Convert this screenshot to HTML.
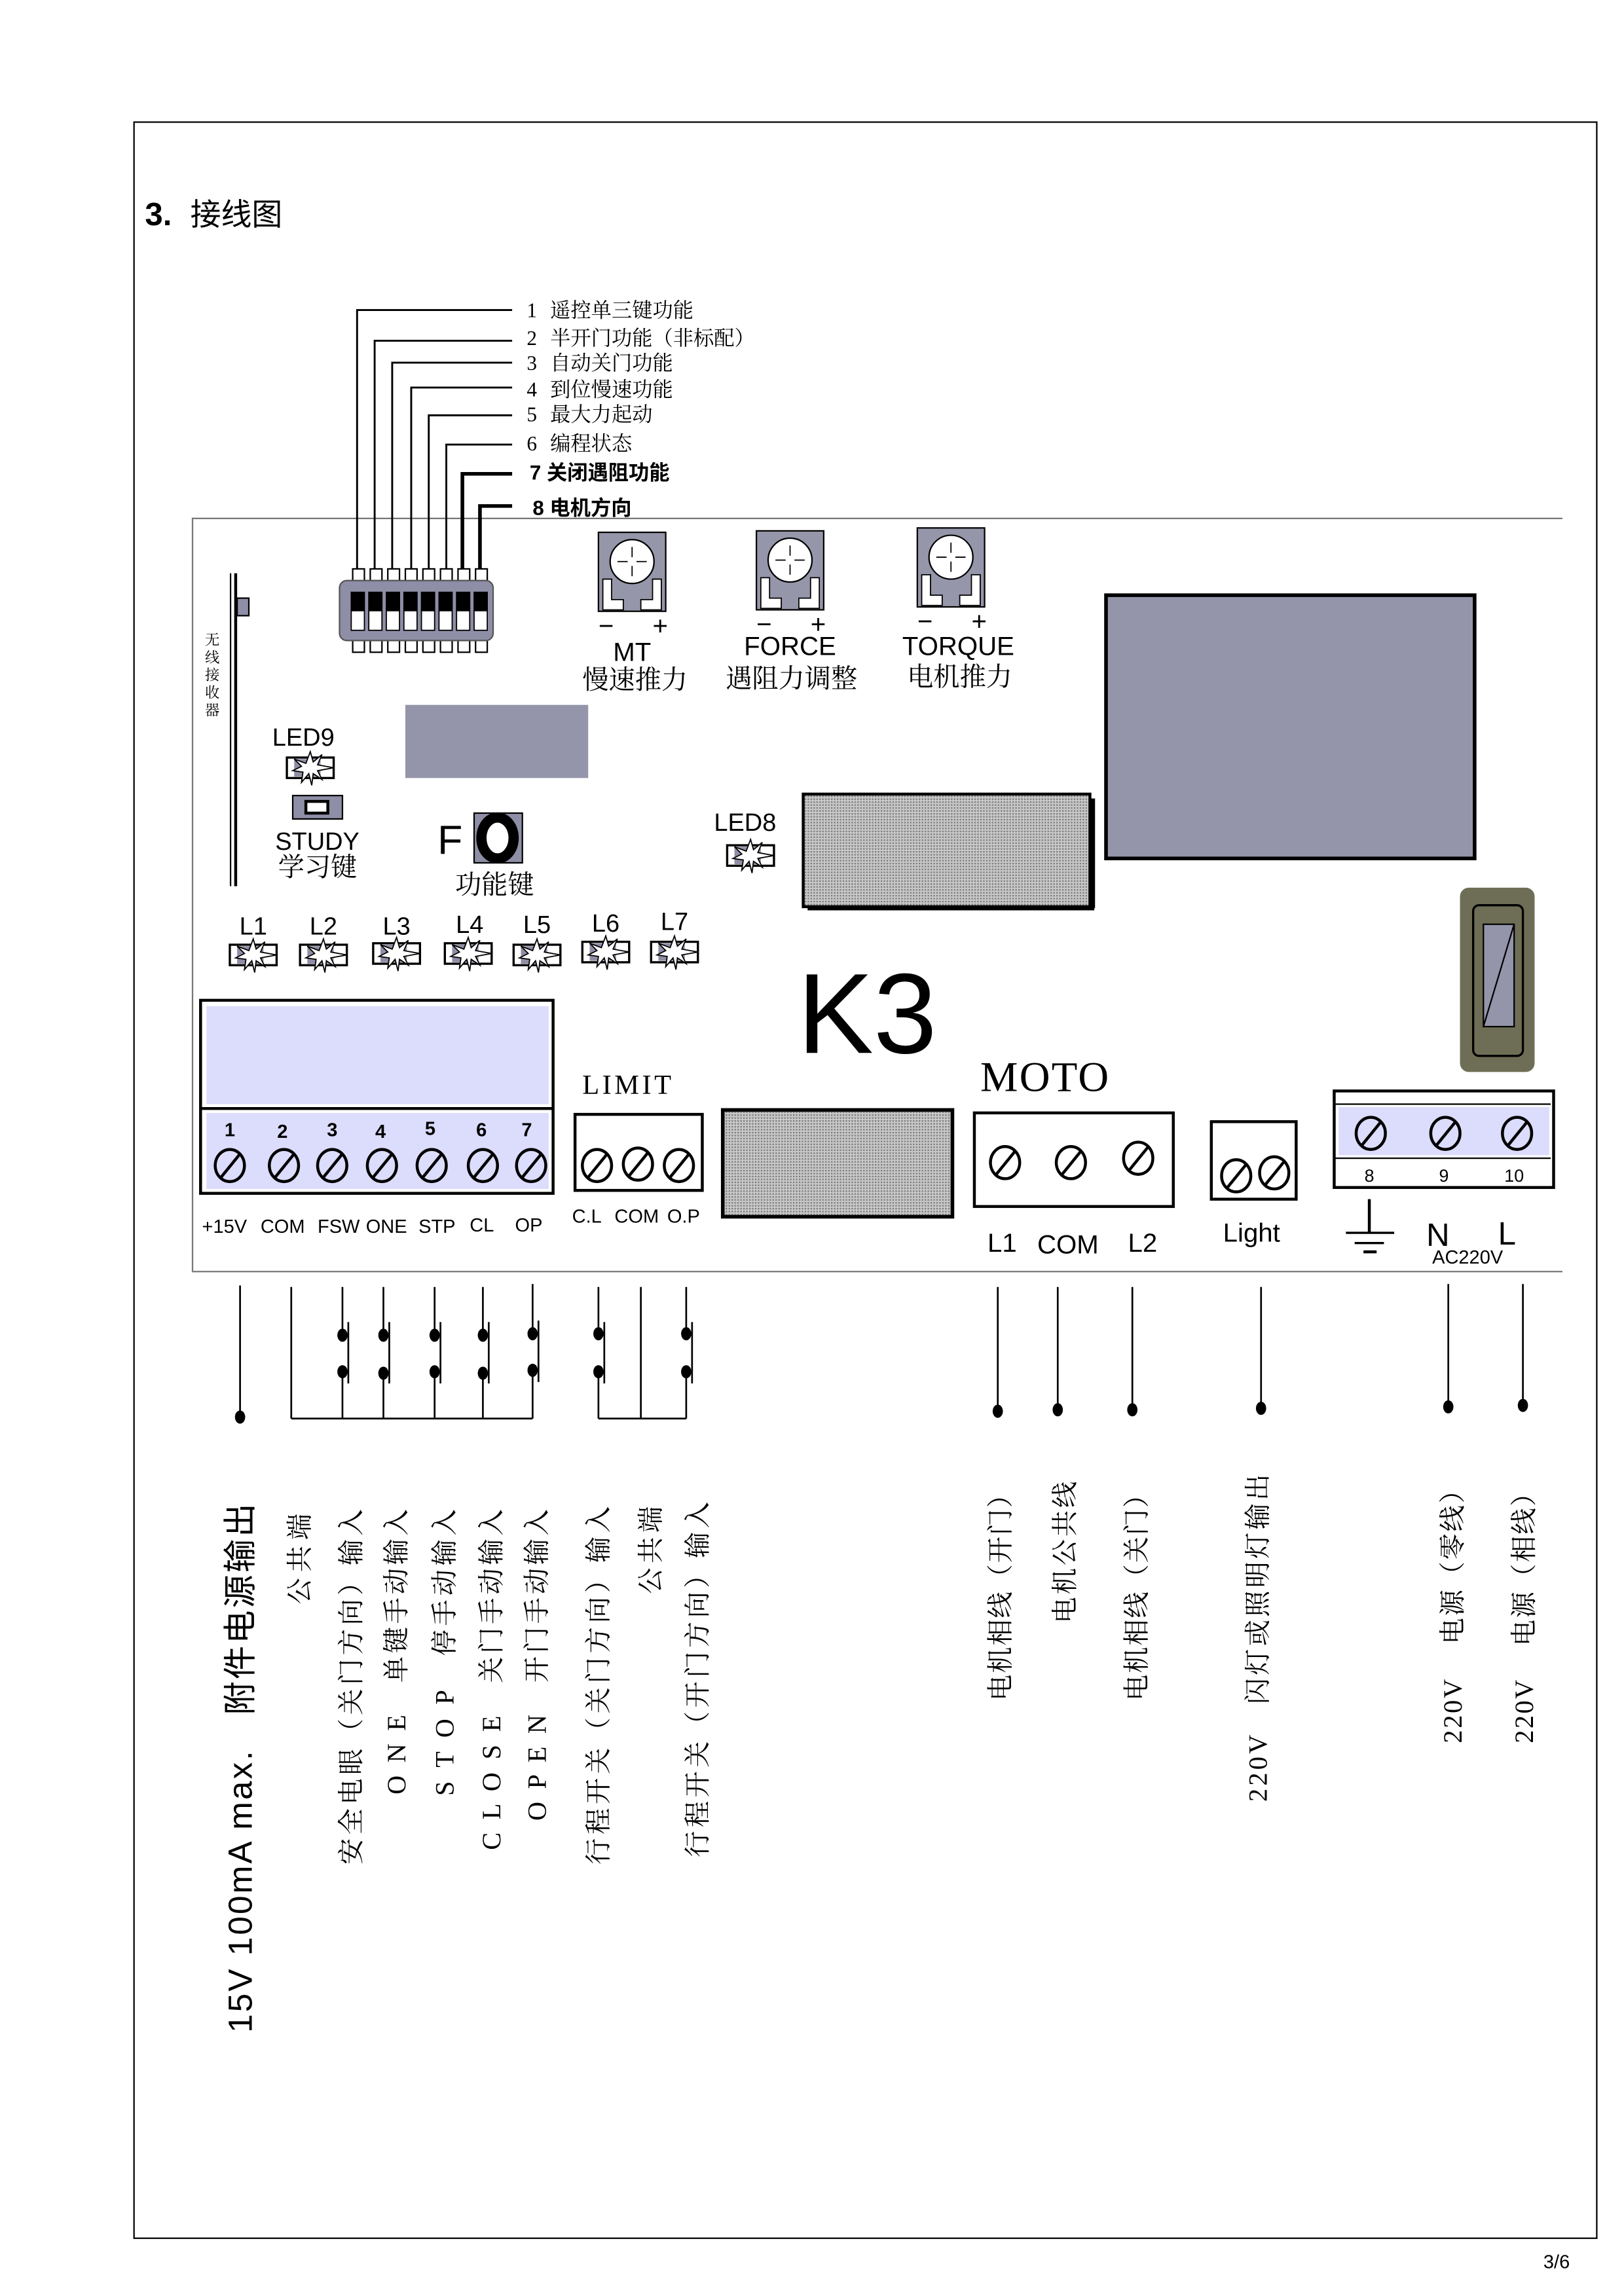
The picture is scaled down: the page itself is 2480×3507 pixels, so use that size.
<!DOCTYPE html>
<html><head><meta charset="utf-8"><style>
html,body{margin:0;padding:0;background:#fff;}
svg{display:block;}
text{white-space:pre;}
.s{font-family:"Liberation Sans","Noto Sans CJK SC",sans-serif;}
.r{font-family:"Liberation Serif","Noto Serif CJK SC",serif;}
</style></head><body>
<svg width="2480" height="3507" viewBox="0 0 1110 1570" xmlns="http://www.w3.org/2000/svg">
<defs>
<g id="led">
<rect x="0" y="0" width="32" height="14" fill="#fff" stroke="#000" stroke-width="1.5"/>
<rect x="5" y="1" width="18" height="12" fill="#8e8ea6"/>
<polygon points="16,-4 18,3 24,-2 21,5 32,7 21,9 24,15 18,11 17,19 15,11 10,17 11,10 4,9 10,6 5,1 13,4" fill="#fff" stroke="#000" stroke-width="0.8"/>
</g>
<g id="scr">
<ellipse cx="0" cy="0" rx="10" ry="11" fill="none" stroke="#000" stroke-width="2"/>
<line x1="-6" y1="8" x2="7" y2="-8" stroke="#000" stroke-width="2"/>
</g>
<g id="pot">
<rect x="0" y="0" width="46" height="54" fill="#9696aa" stroke="#000" stroke-width="1"/>
<circle cx="23" cy="20" r="15" fill="#fff" stroke="#000" stroke-width="1"/>
<line x1="23" y1="10" x2="23" y2="17" stroke="#000" stroke-width=".8"/><line x1="23" y1="23" x2="23" y2="30" stroke="#000" stroke-width=".8"/>
<line x1="13" y1="20" x2="20" y2="20" stroke="#000" stroke-width=".8"/><line x1="26" y1="20" x2="33" y2="20" stroke="#000" stroke-width=".8"/>
<path d="M3,32 h6 v14 h8 v7 h-14z" fill="#fff" stroke="#000" stroke-width=".8"/>
<path d="M43,32 h-6 v14 h-8 v7 h14z" fill="#fff" stroke="#000" stroke-width=".8"/>
</g>
<pattern id="dots" width="2" height="2" patternUnits="userSpaceOnUse"><rect width="2" height="2" fill="#c8c8c8"/><rect width="1" height="1" fill="#777"/></pattern>
</defs>

<rect x="91.5" y="83.5" width="1000" height="1447" fill="none" stroke="#000" stroke-width="1"/>
<text x="99" y="154" class="s" font-size="22" font-weight="bold">3.</text>
<text x="130" y="154" class="s" font-size="21">接线图</text>
<text x="1055" y="1551" class="s" font-size="13">3/6</text>

<line x1="131" y1="354.5" x2="1068" y2="354.5" stroke="#777" stroke-width="1"/>
<line x1="131" y1="869.5" x2="1068" y2="869.5" stroke="#777" stroke-width="1"/>
<line x1="131.5" y1="354" x2="131.5" y2="869" stroke="#777" stroke-width="1"/>

<g fill="none" stroke="#000" stroke-width="1.3">
<polyline points="244,390 244,212 350,212"/>
<polyline points="256,390 256,233 350,233"/>
<polyline points="268,390 268,248 350,248"/>
<polyline points="281,390 281,265 350,265"/>
<polyline points="293,390 293,284 350,284"/>
<polyline points="305,390 305,304 350,304"/>
</g>
<g fill="none" stroke="#000" stroke-width="2.5">
<polyline points="316,390 316,324 350,324"/>
<polyline points="328,390 328,346 350,346"/>
</g>
<g class="r" font-size="14">
<text x="360" y="217">1</text><text x="376" y="217">遥控单三键功能</text>
<text x="360" y="236">2</text><text x="376" y="236">半开门功能（非标配）</text>
<text x="360" y="253">3</text><text x="376" y="253">自动关门功能</text>
<text x="360" y="271">4</text><text x="376" y="271">到位慢速功能</text>
<text x="360" y="288">5</text><text x="376" y="288">最大力起动</text>
<text x="360" y="308">6</text><text x="376" y="308">编程状态</text>
</g>
<g class="s" font-size="14" font-weight="bold">
<text x="362" y="328">7 关闭遇阻功能</text>
<text x="364" y="352">8 电机方向</text>
</g>

<g fill="#fff" stroke="#000" stroke-width="1">
<rect x="241" y="389" width="8" height="9"/><rect x="253" y="389" width="8" height="9"/><rect x="265" y="389" width="8" height="9"/><rect x="277" y="389" width="8" height="9"/><rect x="289" y="389" width="8" height="9"/><rect x="301" y="389" width="8" height="9"/><rect x="313" y="389" width="8" height="9"/><rect x="325" y="389" width="8" height="9"/>
<rect x="241" y="437" width="8" height="9"/><rect x="253" y="437" width="8" height="9"/><rect x="265" y="437" width="8" height="9"/><rect x="277" y="437" width="8" height="9"/><rect x="289" y="437" width="8" height="9"/><rect x="301" y="437" width="8" height="9"/><rect x="313" y="437" width="8" height="9"/><rect x="325" y="437" width="8" height="9"/>
</g>
<rect x="232" y="397" width="105" height="41" rx="5" fill="#8e8ea6" stroke="#555" stroke-width="1"/>
<g>
<rect x="240" y="405" width="9" height="26" fill="#fff" stroke="#000" stroke-width=".8"/><rect x="240" y="405" width="9" height="13" fill="#000"/>
<rect x="252" y="405" width="9" height="26" fill="#fff" stroke="#000" stroke-width=".8"/><rect x="252" y="405" width="9" height="13" fill="#000"/>
<rect x="264" y="405" width="9" height="26" fill="#fff" stroke="#000" stroke-width=".8"/><rect x="264" y="405" width="9" height="13" fill="#000"/>
<rect x="276" y="405" width="9" height="26" fill="#fff" stroke="#000" stroke-width=".8"/><rect x="276" y="405" width="9" height="13" fill="#000"/>
<rect x="288" y="405" width="9" height="26" fill="#fff" stroke="#000" stroke-width=".8"/><rect x="288" y="405" width="9" height="13" fill="#000"/>
<rect x="300" y="405" width="9" height="26" fill="#fff" stroke="#000" stroke-width=".8"/><rect x="300" y="405" width="9" height="13" fill="#000"/>
<rect x="312" y="405" width="9" height="26" fill="#fff" stroke="#000" stroke-width=".8"/><rect x="312" y="405" width="9" height="13" fill="#000"/>
<rect x="324" y="405" width="9" height="26" fill="#fff" stroke="#000" stroke-width=".8"/><rect x="324" y="405" width="9" height="13" fill="#000"/>
</g>

<line x1="157.5" y1="392" x2="157.5" y2="606" stroke="#000" stroke-width="1"/>
<line x1="161" y1="392" x2="161" y2="606" stroke="#000" stroke-width="2"/>
<rect x="162" y="409" width="8" height="12" fill="#8e8ea6" stroke="#000" stroke-width="1"/>
<g class="r" font-size="10" text-anchor="middle">
<text x="145" y="441">无</text><text x="145" y="453">线</text><text x="145" y="465">接</text><text x="145" y="477">收</text><text x="145" y="489">器</text>
</g>

<use href="#pot" x="409" y="364"/>
<use href="#pot" x="517" y="363"/>
<use href="#pot" x="627" y="361"/>
<g class="s" font-size="18">
<text x="409" y="434">−</text><text x="446" y="434">+</text>
<text x="517" y="433">−</text><text x="554" y="433">+</text>
<text x="627" y="431">−</text><text x="664" y="431">+</text>
<text x="432" y="452" text-anchor="middle">MT</text>
<text x="540" y="448" text-anchor="middle">FORCE</text>
<text x="655" y="448" text-anchor="middle">TORQUE</text>
</g>
<g class="r" font-size="18" text-anchor="middle">
<text x="434" y="471">慢速推力</text>
<text x="541" y="470">遇阻力调整</text>
<text x="656" y="469">电机推力</text>
</g>

<rect x="277" y="482" width="125" height="50" fill="#9495aa"/>
<rect x="756" y="407" width="252" height="180" fill="#9495aa" stroke="#000" stroke-width="2.5"/>
<rect x="549" y="543" width="196" height="77" fill="url(#dots)" stroke="#000" stroke-width="2"/>
<line x1="552" y1="621" x2="748" y2="621" stroke="#000" stroke-width="3"/><line x1="747" y1="546" x2="747" y2="621" stroke="#000" stroke-width="3"/>
<rect x="494" y="759" width="157" height="73" fill="url(#dots)" stroke="#000" stroke-width="2.5"/>

<text x="186" y="510" class="s" font-size="17">LED9</text>
<use href="#led" x="196" y="518"/>
<rect x="200" y="544" width="34" height="16" fill="#8e8ea6" stroke="#000" stroke-width="1"/>
<rect x="209" y="548" width="15" height="8" fill="#fff" stroke="#000" stroke-width="2"/>
<text x="188" y="581" class="s" font-size="17">STUDY</text>
<text x="190" y="599" class="r" font-size="18">学习键</text>
<text x="299" y="584" class="s" font-size="28">F</text>
<rect x="324" y="556" width="33" height="34" fill="#8e8ea6" stroke="#000" stroke-width="1"/>
<ellipse cx="340" cy="573" rx="11" ry="14" fill="#fff" stroke="#000" stroke-width="7"/>
<text x="311" y="611" class="r" font-size="18">功能键</text>
<text x="488" y="568" class="s" font-size="17">LED8</text>
<use href="#led" x="497" y="578"/>

<g class="s" font-size="17" text-anchor="middle">
<text x="173" y="639">L1</text><text x="221" y="639">L2</text><text x="271" y="639">L3</text><text x="321" y="638">L4</text><text x="367" y="638">L5</text><text x="414" y="637">L6</text><text x="461" y="636">L7</text>
</g>
<use href="#led" x="157" y="646"/><use href="#led" x="205" y="646"/><use href="#led" x="255" y="645"/><use href="#led" x="304" y="645"/><use href="#led" x="351" y="646"/><use href="#led" x="398" y="644"/><use href="#led" x="445" y="644"/>

<text x="545" y="720" class="s" font-size="78">K3</text>

<rect x="137" y="684" width="241" height="132" fill="#fff" stroke="#000" stroke-width="2"/>
<rect x="141" y="688" width="234" height="67" fill="#dcdcfc"/>
<line x1="137" y1="758" x2="378" y2="758" stroke="#000" stroke-width="2"/>
<rect x="141" y="761" width="234" height="52" fill="#dcdcfc"/>
<g class="s" font-size="13" font-weight="bold" text-anchor="middle">
<text x="157" y="777">1</text><text x="193" y="778">2</text><text x="227" y="777">3</text><text x="260" y="778">4</text><text x="294" y="776">5</text><text x="329" y="777">6</text><text x="360" y="777">7</text>
</g>
<use href="#scr" x="157" y="797"/><use href="#scr" x="194" y="797"/><use href="#scr" x="227" y="797"/><use href="#scr" x="261" y="797"/><use href="#scr" x="295" y="797"/><use href="#scr" x="330" y="797"/><use href="#scr" x="363" y="797"/>
<g class="s" font-size="13">
<text x="138" y="843">+15V</text><text x="178" y="843">COM</text><text x="217" y="843">FSW</text><text x="250" y="843">ONE</text><text x="286" y="843">STP</text><text x="321" y="842">CL</text><text x="352" y="842">OP</text>
</g>

<text x="398" y="748" class="r" font-size="19" letter-spacing="2">LIMIT</text>
<rect x="393" y="762" width="87" height="52" fill="#fff" stroke="#000" stroke-width="2"/>
<use href="#scr" x="408" y="797"/><use href="#scr" x="436" y="796"/><use href="#scr" x="464" y="797"/>
<g class="s" font-size="13"><text x="391" y="836">C.L</text><text x="420" y="836">COM</text><text x="456" y="836">O.P</text></g>

<text x="670" y="746" class="r" font-size="29" letter-spacing="1">MOTO</text>
<rect x="666" y="761" width="136" height="64" fill="#fff" stroke="#000" stroke-width="2"/>
<use href="#scr" x="687" y="795"/><use href="#scr" x="732" y="795"/><use href="#scr" x="778" y="792"/>
<g class="s" font-size="18"><text x="675" y="856">L1</text><text x="709" y="857">COM</text><text x="771" y="856">L2</text></g>

<rect x="828" y="767" width="58" height="53" fill="#fff" stroke="#000" stroke-width="2"/>
<use href="#scr" x="845" y="804"/><use href="#scr" x="871" y="802"/>
<text x="836" y="849" class="s" font-size="18">Light</text>

<rect x="998" y="607" width="51" height="126" rx="6" fill="#6e6e56"/>
<rect x="1007" y="619" width="34" height="103" rx="4" fill="none" stroke="#000" stroke-width="1.5"/>
<rect x="1014" y="632" width="21" height="70" fill="#9495aa" stroke="#000" stroke-width="1"/>
<line x1="1014" y1="702" x2="1035" y2="632" stroke="#000" stroke-width="1"/>

<rect x="912" y="746" width="150" height="66" fill="#fff" stroke="#000" stroke-width="2"/>
<line x1="912" y1="755" x2="1060" y2="755" stroke="#000" stroke-width="1"/>
<rect x="915" y="757" width="144" height="33" fill="#dcdcfc"/>
<line x1="912" y1="792" x2="1060" y2="792" stroke="#000" stroke-width="1"/>
<use href="#scr" x="937" y="775"/><use href="#scr" x="988" y="775"/><use href="#scr" x="1037" y="775"/>
<g class="s" font-size="12" text-anchor="middle"><text x="936" y="808">8</text><text x="987" y="808">9</text><text x="1035" y="808">10</text></g>
<line x1="936" y1="820" x2="936" y2="843" stroke="#000" stroke-width="2"/>
<line x1="920" y1="843" x2="953" y2="843" stroke="#000" stroke-width="1.5"/>
<line x1="926" y1="850" x2="946" y2="850" stroke="#000" stroke-width="1.5"/>
<line x1="932" y1="856" x2="941" y2="856" stroke="#000" stroke-width="2"/>
<g class="s" font-size="22"><text x="975" y="852">N</text><text x="1024" y="851">L</text></g>
<text x="979" y="864" class="s" font-size="13">AC220V</text>

<g stroke="#000" stroke-width="1.2" fill="none">
<line x1="164" y1="879" x2="164" y2="968"/>
<line x1="199" y1="880" x2="199" y2="970"/>
<line x1="199" y1="970" x2="364" y2="970"/>
<line x1="234" y1="880" x2="234" y2="912"/><line x1="234" y1="938" x2="234" y2="970"/><line x1="238" y1="904" x2="238" y2="946"/>
<line x1="262" y1="880" x2="262" y2="912"/><line x1="262" y1="938" x2="262" y2="970"/><line x1="266" y1="904" x2="266" y2="946"/>
<line x1="297" y1="880" x2="297" y2="912"/><line x1="297" y1="938" x2="297" y2="970"/><line x1="301" y1="904" x2="301" y2="946"/>
<line x1="330" y1="880" x2="330" y2="912"/><line x1="330" y1="938" x2="330" y2="970"/><line x1="334" y1="904" x2="334" y2="946"/>
<line x1="364" y1="878" x2="364" y2="912"/><line x1="364" y1="938" x2="364" y2="970"/><line x1="368" y1="903" x2="368" y2="945"/>
<line x1="409" y1="880" x2="409" y2="912"/><line x1="409" y1="938" x2="409" y2="970"/><line x1="413" y1="904" x2="413" y2="946"/>
<line x1="438" y1="880" x2="438" y2="970"/>
<line x1="469" y1="880" x2="469" y2="912"/><line x1="469" y1="938" x2="469" y2="970"/><line x1="473" y1="904" x2="473" y2="946"/>
<line x1="409" y1="970" x2="469" y2="970"/>
<line x1="682" y1="880" x2="682" y2="965"/>
<line x1="723" y1="880" x2="723" y2="964"/>
<line x1="774" y1="880" x2="774" y2="964"/>
<line x1="862" y1="880" x2="862" y2="963"/>
<line x1="990" y1="878" x2="990" y2="962"/>
<line x1="1041" y1="878" x2="1041" y2="961"/>
</g>
<g fill="#000">
<ellipse cx="164" cy="969" rx="3.5" ry="4.5"/>
<ellipse cx="234" cy="913" rx="3.5" ry="4.5"/><ellipse cx="234" cy="938" rx="3.5" ry="4.5"/>
<ellipse cx="262" cy="913" rx="3.5" ry="4.5"/><ellipse cx="262" cy="939" rx="3.5" ry="4.5"/>
<ellipse cx="297" cy="913" rx="3.5" ry="4.5"/><ellipse cx="297" cy="938" rx="3.5" ry="4.5"/>
<ellipse cx="330" cy="913" rx="3.5" ry="4.5"/><ellipse cx="330" cy="939" rx="3.5" ry="4.5"/>
<ellipse cx="364" cy="912" rx="3.5" ry="4.5"/><ellipse cx="364" cy="937" rx="3.5" ry="4.5"/>
<ellipse cx="409" cy="912" rx="3.5" ry="4.5"/><ellipse cx="409" cy="938" rx="3.5" ry="4.5"/>
<ellipse cx="469" cy="912" rx="3.5" ry="4.5"/><ellipse cx="469" cy="938" rx="3.5" ry="4.5"/>
<ellipse cx="682" cy="965" rx="3.5" ry="4.5"/><ellipse cx="723" cy="964" rx="3.5" ry="4.5"/><ellipse cx="774" cy="964" rx="3.5" ry="4.5"/>
<ellipse cx="862" cy="963" rx="3.5" ry="4.5"/><ellipse cx="990" cy="962" rx="3.5" ry="4.5"/><ellipse cx="1041" cy="961" rx="3.5" ry="4.5"/>
</g>

<g class="r" font-size="18">
<text transform="translate(172,1390) rotate(-90)" class="s" font-size="23" textLength="362" lengthAdjust="spacing">15V 100mA max.   附件电源输出</text>
<text transform="translate(211,1097) rotate(-90)" textLength="62" lengthAdjust="spacing">公共端</text>
<text transform="translate(246,1275) rotate(-90)" textLength="243" lengthAdjust="spacing">安全电眼（关门方向）输入</text>
<text transform="translate(277,1227) rotate(-90)" textLength="195" lengthAdjust="spacing">O N E   单键手动输入</text>
<text transform="translate(310,1228) rotate(-90)" textLength="196" lengthAdjust="spacing">S T O P   停手动输入</text>
<text transform="translate(342,1265) rotate(-90)" textLength="233" lengthAdjust="spacing">C L O S E   关门手动输入</text>
<text transform="translate(373,1245) rotate(-90)" textLength="213" lengthAdjust="spacing">O P E N   开门手动输入</text>
<text transform="translate(415,1275) rotate(-90)" textLength="245" lengthAdjust="spacing">行程开关（关门方向）输入</text>
<text transform="translate(451,1090) rotate(-90)" textLength="60" lengthAdjust="spacing">公共端</text>
<text transform="translate(483,1270) rotate(-90)" textLength="243" lengthAdjust="spacing">行程开关（开门方向）输入</text>
<text transform="translate(690,1163) rotate(-90)" textLength="150" lengthAdjust="spacing">电机相线（开门）</text>
<text transform="translate(734,1110) rotate(-90)" textLength="97" lengthAdjust="spacing">电机公共线</text>
<text transform="translate(783,1163) rotate(-90)" textLength="150" lengthAdjust="spacing">电机相线（关门）</text>
<text transform="translate(866,1232) rotate(-90)" textLength="224" lengthAdjust="spacing">220V   闪灯或照明灯输出</text>
<text transform="translate(999,1192) rotate(-90)" textLength="182" lengthAdjust="spacing">220V    电源（零线）</text>
<text transform="translate(1048,1192) rotate(-90)" textLength="180" lengthAdjust="spacing">220V    电源（相线）</text>
</g>
</svg>
</body></html>
